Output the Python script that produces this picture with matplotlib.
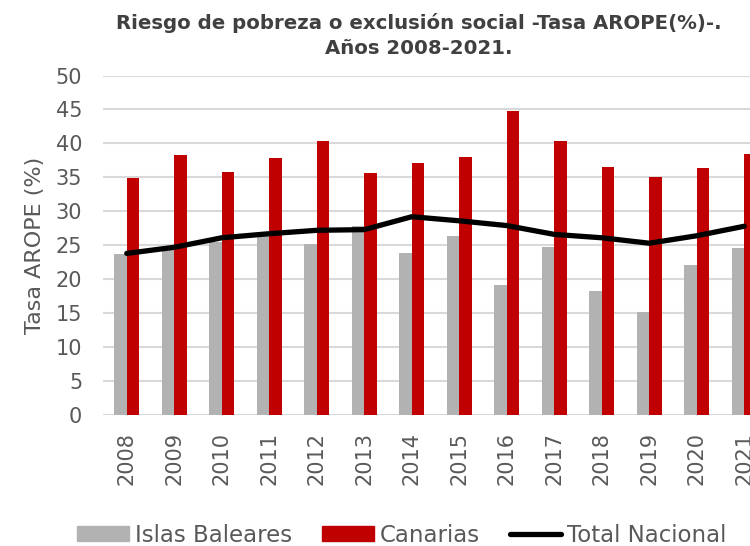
import numpy as np
import matplotlib.pyplot as plt
from matplotlib.patches import Patch
from matplotlib.lines import Line2D

years = ['2008', '2009', '2010', '2011', '2012', '2013', '2014',
         '2015', '2016', '2017', '2018', '2019', '2020', '2021']
baleares = [23.7, 24.3, 25.5, 26.3, 25.2, 27.9, 23.9,
            26.4, 19.2, 24.8, 18.2, 15.2, 22.1, 24.6]
canarias = [34.9, 38.3, 35.8, 37.9, 40.4, 35.6, 37.1,
            38.0, 44.7, 40.3, 36.5, 35.1, 36.4, 38.4]
nacional = [23.8, 24.7, 26.1, 26.7, 27.2, 27.3, 29.2,
            28.6, 27.9, 26.6, 26.1, 25.3, 26.4, 27.8]

grey = '#b2b2b2'
red = '#c00000'
txt = '#595959'

fig = plt.figure(figsize=(7.5, 5.46), dpi=100)
# plot area runs past the right edge like the original screenshot
ax = fig.add_axes([103 / 750, 131 / 546, 665 / 750, 339.5 / 546])

x = np.arange(len(years))
w = 0.26
ax.bar(x - w / 2, baleares, width=w, color=grey, zorder=2)
ax.bar(x + w / 2, canarias, width=w, color=red, zorder=2)
ax.plot(x, nacional, color='black', lw=3.8, solid_capstyle='round',
        solid_joinstyle='round', zorder=3)

ax.set_xlim(-0.5, len(years) - 0.5)
ax.set_ylim(0, 50)
ax.set_yticks(np.arange(0, 51, 5))
ax.set_xticks(x)
ax.set_xticklabels(years, rotation=90)
ax.grid(axis='y', color='#d9d9d9', lw=1.5, zorder=0)
ax.set_axisbelow(True)
for s in ax.spines.values():
    s.set_visible(False)
ax.tick_params(axis='y', length=0, pad=15, labelsize=15, labelcolor=txt)
ax.tick_params(axis='x', length=0, pad=12, labelsize=15, labelcolor=txt)
ax.set_ylabel('Tasa AROPE (%)', fontsize=16, color=txt, labelpad=8)

fig.text(419 / 750, 1 - 23 / 546,
         'Riesgo de pobreza o exclusión social -Tasa AROPE(%)-.',
         ha='center', va='center', fontsize=14.2, fontweight='bold', color='#404040')
fig.text(419 / 750, 1 - 48 / 546, 'Años 2008-2021.',
         ha='center', va='center', fontsize=14.2, fontweight='bold', color='#404040')

handles = [Patch(color=grey), Patch(color=red),
           Line2D([], [], color='black', lw=3.8, solid_capstyle='round')]
fig.legend(handles, ['Islas Baleares', 'Canarias', 'Total Nacional'],
           loc='center', bbox_to_anchor=(402 / 750, 11 / 546), ncol=3,
           frameon=False, fontsize=16.5, labelcolor=txt,
           handlelength=2.25, handleheight=0.6, handletextpad=0.27,
           columnspacing=1.3, borderpad=0)

fig.savefig('out.png', dpi=100)
